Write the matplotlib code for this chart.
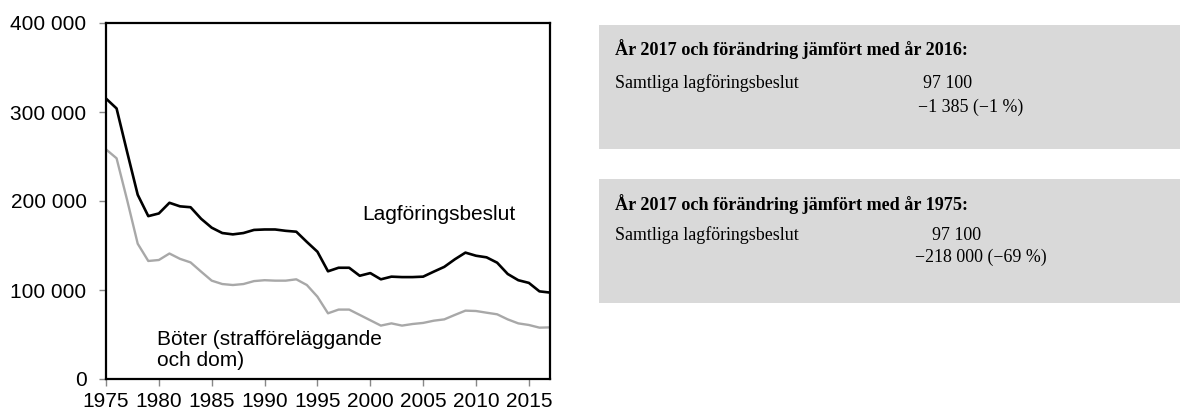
import numpy as np
import matplotlib.pyplot as plt
from matplotlib.patches import Rectangle
from matplotlib.ticker import FuncFormatter

# Data
years = list(range(1975, 2018))
lagforing = [315100, 304000, 255000, 207000, 183000, 186000, 198000, 194000, 193000, 180000,
             170000, 164000, 162500, 164000, 167500, 168000, 168000, 166500, 165500, 154000,
             143000, 121000, 125000, 125000, 116000, 119000, 112000, 115000, 114500, 114500,
             115000, 120600, 126000, 134500, 142000, 138500, 136700, 130700, 118000, 111000,
             108000, 98485, 97100]
boter = [258000, 248000, 201000, 152000, 132600, 133700, 141000, 135000, 131000, 120600,
         110500, 106700, 105600, 106700, 110000, 111000, 110500, 110500, 112000, 105600,
         92500, 73800, 78000, 78000, 72000, 66000, 60000, 62500, 60000, 61800,
         63000, 65500, 67000, 72000, 76800, 76400, 74500, 72700, 67000, 62500,
         60700, 57700, 58000]

box_titles = ["År 2017 och förändring jämfört med år 2016:",
              "År 2017 och förändring jämfört med år 1975:"]
box_row_label = "Samtliga lagföringsbeslut"
box_values = ["97 100", "97 100"]
box_changes = ["\u22121 385 (\u22121 %)", "\u2212218 000 (\u221269 %)"]

plt.rcParams['font.family'] = ['Liberation Sans', 'DejaVu Sans']

fig = plt.figure(figsize=(11.8, 4.12), dpi=100)
ax = fig.add_axes([106/1180, 33/412, 444/1180, 356/412])

ax.plot(years, lagforing, color='black', lw=1.9, solid_joinstyle='round')
ax.plot(years, boter, color='#a8a8a8', lw=1.7, solid_joinstyle='round')

ax.set_xlim(1975, 2017)
ax.set_ylim(0, 400000)
ax.set_xticks(range(1975, 2016, 5))
ax.set_yticks(range(0, 400001, 100000))
ax.yaxis.set_major_formatter(FuncFormatter(lambda v, p: f"{int(v):,}".replace(",", " ")))
ax.tick_params(labelsize=15, color='#888888', length=5, width=1)
ax.tick_params(axis='y', pad=9)
ax.tick_params(axis='x', pad=4.5)
for s in ax.spines.values():
    s.set_linewidth(1.6)
    s.set_color('black')

ax.text(2006.5, 185000, "Lagföringsbeslut", fontsize=15, ha='center', va='center')
ax.text(1979.8, 33000, "Böter (strafföreläggande\noch dom)", fontsize=15,
        ha='left', va='center', linespacing=1.15)

# Summary boxes on the right
serif = ['Liberation Serif', 'DejaVu Serif']
boxes_y = [(25, 149), (179, 303)]
title_y = [49, 204]
row1_y = [83, 235]
row2_y = [107, 257]
val_x = [923, 932]
chg_x = [918, 915]

def fx(px):
    return px / 1180

def fy(py):
    return 1 - py / 412

for i in range(2):
    y0, y1 = boxes_y[i]
    fig.patches.append(Rectangle((fx(599), fy(y1)), fx(1180 - 599), (y1 - y0) / 412,
                                 transform=fig.transFigure, facecolor='#d9d9d9',
                                 edgecolor='none', zorder=0))
    fig.text(fx(615), fy(title_y[i]), box_titles[i], family=serif, fontsize=13.1,
             fontweight='bold', va='center', ha='left')
    fig.text(fx(615), fy(row1_y[i]), box_row_label, family=serif, fontsize=12.9,
             va='center', ha='left')
    fig.text(fx(val_x[i]), fy(row1_y[i]), box_values[i], family=serif, fontsize=12.9,
             va='center', ha='left')
    fig.text(fx(chg_x[i]), fy(row2_y[i]), box_changes[i], family=serif, fontsize=12.9,
             va='center', ha='left')

fig.savefig('out.png', dpi=100)
